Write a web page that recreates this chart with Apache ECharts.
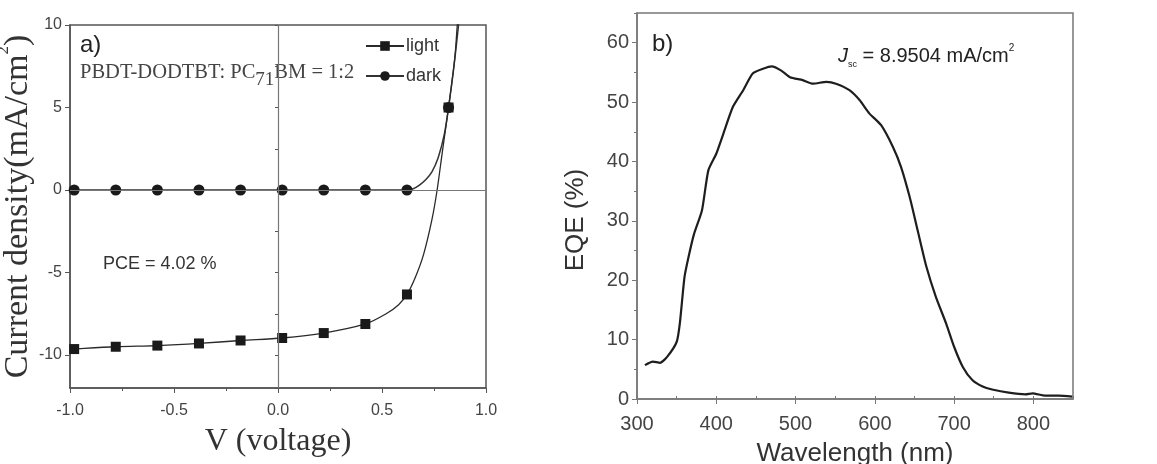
<!DOCTYPE html>
<html>
<head>
<meta charset="utf-8">
<title>PBDT-DODTBT J-V and EQE</title>
<script src="https://cdn.jsdelivr.net/npm/echarts@6/dist/echarts.min.js"></script>
<style>
  html, body { margin: 0; padding: 0; background: #fff; }
  #chart { width: 1157px; height: 464px; }
</style>
</head>
<body>
<div id="chart"></div>
<script>
// ---- a) J-V curves ----
// marker points
var lightV = [-0.98, -0.78, -0.58, -0.38, -0.18, 0.02, 0.22, 0.42, 0.62, 0.82];
var lightJ = [-9.64, -9.50, -9.43, -9.30, -9.12, -8.97, -8.67, -8.12, -6.33, 5.0];
var darkV = [-0.98, -0.78, -0.58, -0.38, -0.18, 0.02, 0.22, 0.42, 0.62, 0.82];
var darkJ = [0, 0, 0, 0, 0, 0, 0, 0, 0, 5.0];
// extra points of the drawn curves (read between the markers)
var lightCurveV = [-1.0, 0.52, 0.58, 0.66, 0.70, 0.74, 0.765, 0.79, 0.85, 0.862, 0.87];
var lightCurveJ = [-9.66, -7.50, -6.95, -5.30, -3.90, -1.80, 0, 2.30, 8.0, 10.0, 11.0];
var darkCurveV = [-1.0, 0.65, 0.68, 0.71, 0.74, 0.77, 0.80, 0.845, 0.868, 0.875];
var darkCurveJ = [0, 0.08, 0.30, 0.62, 1.10, 1.95, 3.40, 7.40, 10.0, 11.0];

// ---- b) EQE spectrum ----
var wavelength = [310, 320, 329, 338, 350, 354, 360, 366, 372, 382,
                  390, 400, 409, 421, 434, 446, 459, 470, 482, 493,
                  509, 522, 539, 551, 568, 581, 593, 608, 623, 633,
                  644, 654, 665, 677, 690, 700, 711, 723, 736, 748,
                  769, 790, 799, 815, 832, 849];
var eqe = [5.7, 6.3, 6.1, 7.1, 9.6, 12.7, 20.6, 24.5, 27.8, 31.8,
           38.5, 41.3, 44.7, 49.2, 52.0, 54.8, 55.6, 56.0, 55.3, 54.2,
           53.7, 53.1, 53.4, 53.1, 52.0, 50.3, 48.1, 46.1, 42.4, 39.1,
           34.0, 28.4, 22.3, 17.2, 12.7, 8.8, 5.4, 3.2, 2.1, 1.6,
           1.06, 0.78, 0.95, 0.56, 0.56, 0.4];

var SANS = 'Liberation Sans, Arial, sans-serif';
var SERIF = 'Liberation Serif, Times New Roman, serif';

// markers keep the series symbol, curve points get none
function joinCurve (mv, mj, cv, cj) {
  var pts = [];
  for (var i = 0; i < mv.length; i++) pts.push({ value: [mv[i], mj[i]] });
  for (var k = 0; k < cv.length; k++) pts.push({ value: [cv[k], cj[k]], symbol: 'none' });
  pts.sort(function (a, b) { return a.value[0] - b.value[0]; });
  return pts;
}

var axisCol = '#555';
var chart = echarts.init(document.getElementById('chart'));

var option = {
  backgroundColor: '#fff',
  animation: false,
  grid: [
    { left: 70, right: 671, top: 25, bottom: 76, outerBoundsMode: 'none', show: true, borderColor: axisCol, borderWidth: 1.5, backgroundColor: 'transparent' },
    { left: 637, right: 84, top: 13, bottom: 65, outerBoundsMode: 'none', show: true, borderColor: '#777', borderWidth: 1.5, backgroundColor: 'transparent' }
  ],
  legend: {
    orient: 'vertical',
    left: 360,
    top: 32,
    itemWidth: 38,
    itemHeight: 12,
    itemGap: 12,
    data: ['light', 'dark'],
    textStyle: { fontFamily: SANS, fontSize: 18, color: '#333', padding: [0, 0, 0, -3] }
  },
  xAxis: [
    {
      gridIndex: 0, type: 'value', min: -1, max: 1, interval: 0.5,
      name: 'V (voltage)', nameLocation: 'middle', nameGap: 38,
      nameTextStyle: { fontFamily: SERIF, fontSize: 32, color: '#333' },
      axisLine: { onZero: false, lineStyle: { color: axisCol, width: 1.5 } },
      axisTick: { length: 5, lineStyle: { color: axisCol } },
      minorTick: { show: true, splitNumber: 2, length: 3, lineStyle: { color: axisCol } },
      axisLabel: { fontFamily: SANS, fontSize: 16, color: '#444', margin: 15, formatter: function (v) { return v.toFixed(1); } },
      splitLine: { show: false }
    },
    {
      gridIndex: 1, type: 'value', min: 300, max: 850, interval: 100,
      name: 'Wavelength (nm)', nameLocation: 'middle', nameGap: 42,
      nameTextStyle: { fontFamily: SANS, fontSize: 26, color: '#333' },
      axisLine: { onZero: false, lineStyle: { color: '#777', width: 1.5 } },
      axisTick: { length: 5, lineStyle: { color: '#777' } },
      axisLabel: { fontFamily: SANS, fontSize: 20, color: '#444', margin: 15, showMaxLabel: false },
      splitLine: { show: false }
    },
    {
      gridIndex: 1, type: 'value', min: 300, max: 850, interval: 50,
      axisLine: { show: false },
      axisTick: { length: 3, lineStyle: { color: '#777' } },
      axisLabel: { show: false },
      splitLine: { show: false }
    }
  ],
  yAxis: [
    {
      gridIndex: 0, type: 'value', min: -12, max: 10, minInterval: 5, maxInterval: 5,
      name: '{m|Current density(mA/cm}{p|2}{m|)}', nameLocation: 'middle', nameGap: 32,
      nameTextStyle: {
        rich: {
          m: { fontFamily: SERIF, fontSize: 34, color: '#333', lineHeight: 40, verticalAlign: 'bottom' },
          p: { fontFamily: SERIF, fontSize: 17, color: '#333', lineHeight: 40, verticalAlign: 'top' }
        }
      },
      axisLine: { onZero: false, lineStyle: { color: axisCol, width: 1.5 } },
      axisTick: { length: 5, lineStyle: { color: axisCol } },
      axisLabel: { fontFamily: SANS, fontSize: 16, color: '#444', margin: 8, showMinLabel: false },
      splitLine: { show: false }
    },
    {
      gridIndex: 0, type: 'value', position: 'left', min: -12, max: 10, minInterval: 2.5, maxInterval: 2.5,
      axisLine: { show: false },
      axisTick: { length: 3, lineStyle: { color: axisCol } },
      axisLabel: { show: false },
      splitLine: { show: false }
    },
    {
      gridIndex: 1, type: 'value', min: 0, max: 65, interval: 10,
      axisLine: { onZero: false, lineStyle: { color: '#777', width: 1.5 } },
      axisTick: { length: 5, lineStyle: { color: '#777' } },
      axisLabel: { fontFamily: SANS, fontSize: 20, color: '#444', margin: 8, showMaxLabel: false },
      splitLine: { show: false }
    },
    {
      gridIndex: 1, type: 'value', position: 'left', min: 0, max: 65, interval: 5,
      axisLine: { show: false },
      axisTick: { length: 3, lineStyle: { color: '#777' } },
      axisLabel: { show: false },
      splitLine: { show: false }
    }
  ],
  series: [
    {
      name: 'light', type: 'line', xAxisIndex: 0, yAxisIndex: 0,
      data: joinCurve(lightV, lightJ, lightCurveV, lightCurveJ),
      smooth: 0.3,
      symbol: 'rect', symbolSize: 10, showSymbol: true,
      itemStyle: { color: '#1a1a1a' },
      lineStyle: { color: '#2a2a2a', width: 1.3 },
      z: 4
    },
    {
      name: 'dark', type: 'line', xAxisIndex: 0, yAxisIndex: 0,
      data: joinCurve(darkV, darkJ, darkCurveV, darkCurveJ),
      smooth: 0.3,
      symbol: 'circle', symbolSize: 11, showSymbol: true,
      itemStyle: { color: '#1a1a1a' },
      lineStyle: { color: '#333', width: 1.5 },
      z: 3,
      markLine: {
        silent: true, symbol: 'none', label: { show: false },
        lineStyle: { color: '#777', width: 1.2, type: 'solid' },
        data: [{ xAxis: 0 }, { yAxis: 0 }]
      }
    },
    {
      name: 'EQE', type: 'line', xAxisIndex: 1, yAxisIndex: 2,
      data: wavelength.map(function (w, i) { return [w, eqe[i]]; }),
      smooth: 0.2, showSymbol: false,
      lineStyle: { color: '#1e1e1e', width: 2.2 }
    }
  ],
  graphic: [
    { type: 'text', x: 80, y: 45, style: { text: 'a)', font: '24px ' + SANS, fill: '#222', verticalAlign: 'middle' } },
    {
      type: 'text', x: 80, y: 76,
      style: {
        text: '{m|PBDT-DODTBT: PC}{s|71}{m|BM = 1:2}',
        verticalAlign: 'middle',
        rich: {
          m: { fontFamily: SERIF, fontSize: 20.5, fill: '#444', lineHeight: 28, verticalAlign: 'top' },
          s: { fontFamily: SERIF, fontSize: 19, fill: '#444', lineHeight: 28, verticalAlign: 'bottom' }
        }
      }
    },
    { type: 'text', x: 103, y: 264, style: { text: 'PCE = 4.02 %', font: '18px ' + SANS, fill: '#333', verticalAlign: 'middle' } },
    { type: 'text', x: 652, y: 44, style: { text: 'b)', font: '24px ' + SANS, fill: '#222', verticalAlign: 'middle' } },
    {
      type: 'text', x: 838, y: 56,
      style: {
        text: '{j|J}{s|sc}{t| = 8.9504 mA/cm}{p|2}',
        verticalAlign: 'middle',
        rich: {
          j: { fontFamily: SANS, fontStyle: 'italic', fontSize: 20, fill: '#222', lineHeight: 26, verticalAlign: 'middle' },
          s: { fontFamily: SANS, fontSize: 9, fill: '#222', lineHeight: 26, verticalAlign: 'bottom' },
          t: { fontFamily: SANS, fontSize: 20, fill: '#222', lineHeight: 26, verticalAlign: 'middle' },
          p: { fontFamily: SANS, fontSize: 10, fill: '#222', lineHeight: 26, verticalAlign: 'top' }
        }
      }
    },
    {
      type: 'text', x: 576, y: 220, rotation: Math.PI / 2,
      style: { text: 'EQE (%)', font: '26px ' + SANS, fill: '#333', align: 'center', verticalAlign: 'middle' }
    }
  ]
};

chart.setOption(option);
</script>
</body>
</html>
